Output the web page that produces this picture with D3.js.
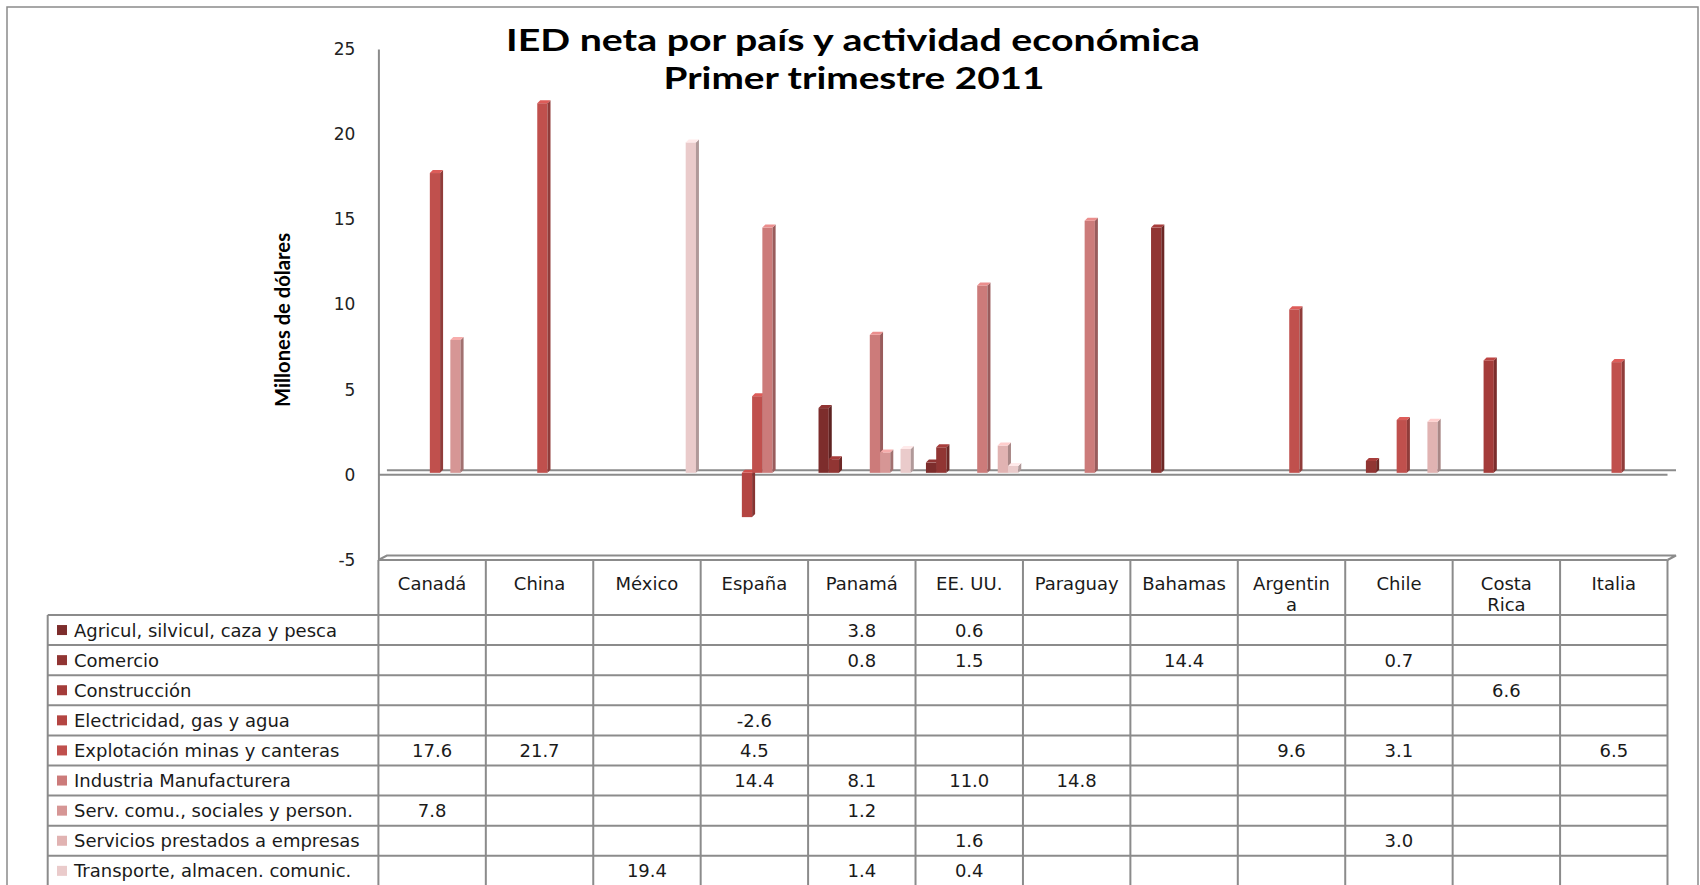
<!DOCTYPE html>
<html>
<head>
<meta charset="utf-8">
<script src="https://cdn.jsdelivr.net/npm/d3@7"></script>
<style>
  body { margin: 0; background: #fff; }
  svg { display: block; }
</style>
</head>
<body>
<svg id="chart" width="1700" height="885"></svg>
<script>
// ---- data ----
const countries = ["Canadá", "China", "México", "España", "Panamá", "EE. UU.", "Paraguay", "Bahamas", "Argentina", "Chile", "Costa Rica", "Italia"];
const headerLabels = ["Canadá", "China", "México", "España", "Panamá", "EE. UU.", "Paraguay", "Bahamas", "Argentin\na", "Chile", "Costa\nRica", "Italia"];

const seriesNames = [
  "Agricul, silvicul, caza y pesca",
  "Comercio",
  "Construcción",
  "Electricidad, gas y agua",
  "Explotación minas y canteras",
  "Industria Manufacturera",
  "Serv. comu., sociales y person.",
  "Servicios prestados a empresas",
  "Transporte, almacen. comunic."
];

//                     Can   Chi   Méx   Esp   Pan  EEUU  Par   Bah   Arg   Chi   CR    Ita
const agricultura   = [null, null, null, null, 3.8, 0.6, null, null, null, null, null, null];
const comercio      = [null, null, null, null, 0.8, 1.5, null, 14.4, null, 0.7, null, null];
const construccion  = [null, null, null, null, null, null, null, null, null, null, 6.6, null];
const electricidad  = [null, null, null, -2.6, null, null, null, null, null, null, null, null];
const explotacion   = [17.6, 21.7, null, 4.5, null, null, null, null, 9.6, 3.1, null, 6.5];
const industria     = [null, null, null, 14.4, 8.1, 11.0, 14.8, null, null, null, null, null];
const servComunales = [7.8, null, null, null, 1.2, null, null, null, null, null, null, null];
const servEmpresas  = [null, null, null, null, null, 1.6, null, null, null, 3.0, null, null];
const transporte    = [null, null, 19.4, null, 1.4, 0.4, null, null, null, null, null, null];

const seriesValues = [agricultura, comercio, construccion, electricidad, explotacion,
                      industria, servComunales, servEmpresas, transporte];

const seriesColors = ["#7d2d2c", "#913533", "#a43c3a", "#b44542", "#c0504d",
                      "#cc7b7a", "#d69695", "#e1b3b2", "#eacbcb"];

const yTicks = [-5, 0, 5, 10, 15, 20, 25];
const titleLines = ["IED neta por país y actividad económica", "Primer trimestre 2011"];
const yTitle = "Millones de dólares";

// number formatting with a plain hyphen for negatives
const locale = d3.formatLocale({ decimal: ".", thousands: ",", grouping: [3], currency: ["$", ""], minus: "-" });
const fmtTick = locale.format("d");
const fmtValue = locale.format(".1f");

// ---- layout ----
const svg = d3.select("#chart");
const plotLeft = 378.4, plotRight = 1667.5;
const yTopPx = 49, yBottomPx = 560;
const wallDx = 8.5, wallDy = -4.5;     // depth of the 3D floor / back wall
const barDx = 3, barDy = -3;           // depth of each column
const barLift = -2;                    // columns stand slightly behind the front edge
const tableTop = 560, headerBottom = 615, rowH = 30.1, legendLeft = 47.7;
const gridColor = "#8b8b8b";
const tableFont = "'DejaVu Sans', sans-serif";
const tableRowsBottom = headerBottom + rowH * seriesNames.length;

svg.append("rect").attr("width", 1700).attr("height", 885).attr("fill", "#fff");

// chart frame
svg.append("rect")
  .attr("x", 7).attr("y", 7).attr("width", 1691).attr("height", 900)
  .attr("fill", "none").attr("stroke", gridColor).attr("stroke-width", 1.5);

// scales
const x = d3.scaleBand().domain(countries).range([plotLeft, plotRight]).padding(0);
const bw = x.bandwidth();
const xs = d3.scaleBand().domain(seriesNames).range([bw * 0.097, bw * 0.956]).padding(0);
const y = d3.scaleLinear().domain([-5, 25]).range([yBottomPx, yTopPx]);

// floor (3D) at the bottom of the value range
const floorG = svg.append("g").attr("fill", "none").attr("stroke", gridColor).attr("stroke-width", 2);
floorG.append("path").attr("d",
  `M${plotLeft},${y(-5)} L${plotLeft + wallDx},${y(-5) + wallDy} L${plotRight + wallDx},${y(-5) + wallDy} L${plotRight},${y(-5)}`);

// zero lines: back wall and front edge
floorG.append("line")
  .attr("x1", plotLeft + wallDx).attr("x2", plotRight + wallDx)
  .attr("y1", y(0) + wallDy).attr("y2", y(0) + wallDy);
floorG.append("line")
  .attr("x1", plotLeft).attr("x2", plotRight)
  .attr("y1", y(0)).attr("y2", y(0));

// y axis
const yAxis = svg.append("g")
  .attr("transform", `translate(${plotLeft},0)`)
  .call(d3.axisLeft(y).tickValues(yTicks).tickFormat(fmtTick).tickSize(0).tickSizeOuter(0).tickPadding(23));
yAxis.select(".domain").attr("stroke", gridColor).attr("stroke-width", 2);
yAxis.selectAll("text")
  .attr("font-family", tableFont).attr("font-size", 17).attr("fill", "#222");

// bars
const bars = [];
seriesValues.forEach((vals, si) => {
  vals.forEach((v, ci) => {
    if (v !== null) bars.push({ series: seriesNames[si], si, country: countries[ci], ci, value: v });
  });
});
bars.sort((a, b) => (a.ci - b.ci) || (a.si - b.si));

const barG = svg.append("g");
bars.forEach(d => {
  const c = seriesColors[d.si];
  const x0 = x(d.country) + xs(d.series);
  const w = xs.bandwidth();
  const yt = y(Math.max(d.value, 0)) + barLift;
  const yb = y(Math.min(d.value, 0)) + barLift;
  const g = barG.append("g");
  g.append("rect")
    .attr("x", x0).attr("y", yt).attr("width", w).attr("height", yb - yt)
    .attr("fill", c);
  g.append("polygon")
    .attr("points", [[x0 + w, yt], [x0 + w + barDx, yt + barDy], [x0 + w + barDx, yb + barDy], [x0 + w, yb]].join(" "))
    .attr("fill", d3.color(c).darker(0.8));
  g.append("polygon")
    .attr("points", [[x0, yt], [x0 + barDx, yt + barDy], [x0 + w + barDx, yt + barDy], [x0 + w, yt]].join(" "))
    .attr("fill", d3.color(c).brighter(0.4));
});

// title
const title = svg.append("g")
  .attr("font-family", "Lato, 'Open Sans', sans-serif").attr("font-weight", 700)
  .attr("font-size", 31).attr("fill", "#000").attr("text-anchor", "middle");
title.append("text").attr("x", 853).attr("y", 51).text(titleLines[0])
  .attr("textLength", 694).attr("lengthAdjust", "spacingAndGlyphs");
title.append("text").attr("x", 854).attr("y", 89).text(titleLines[1])
  .attr("textLength", 381).attr("lengthAdjust", "spacingAndGlyphs");

// y axis title
svg.append("text")
  .attr("transform", "translate(290,320) rotate(-90)")
  .attr("text-anchor", "middle")
  .attr("font-family", "Lato, 'Open Sans', sans-serif").attr("font-weight", 700)
  .attr("font-size", 20).attr("fill", "#000")
  .attr("textLength", 174).attr("lengthAdjust", "spacingAndGlyphs")
  .text(yTitle);

// ---- data table ----
const tableG = svg.append("g").attr("stroke", gridColor).attr("stroke-width", 2);
// header top edge
tableG.append("line").attr("x1", plotLeft).attr("x2", plotRight).attr("y1", tableTop).attr("y2", tableTop);
// column separators
const colEdges = countries.map(c => x(c)).concat([plotRight]);
colEdges.forEach(cx => {
  tableG.append("line").attr("x1", cx).attr("x2", cx).attr("y1", tableTop).attr("y2", tableRowsBottom);
});
// legend column left edge
tableG.append("line").attr("x1", legendLeft).attr("x2", legendLeft).attr("y1", headerBottom).attr("y2", tableRowsBottom);
// row separators
d3.range(seriesNames.length + 1).forEach(k => {
  const ry = headerBottom + k * rowH;
  tableG.append("line").attr("x1", legendLeft).attr("x2", plotRight).attr("y1", ry).attr("y2", ry);
});

// header labels
const headG = svg.append("g").attr("font-family", tableFont).attr("font-size", 18)
  .attr("fill", "#1a1a1a").attr("text-anchor", "middle");
headerLabels.forEach((lab, ci) => {
  const t = headG.append("text").attr("x", x(countries[ci]) + bw / 2).attr("y", 590);
  lab.split("\n").forEach((line, li) => {
    t.append("tspan").attr("x", x(countries[ci]) + bw / 2).attr("y", 590 + li * 21).text(line);
  });
});

// legend entries + values
const rowsG = svg.append("g").attr("font-family", tableFont).attr("font-size", 18).attr("fill", "#1a1a1a");
seriesNames.forEach((name, si) => {
  const mid = headerBottom + si * rowH + rowH / 2;
  rowsG.append("rect").attr("x", 57).attr("y", mid - 5).attr("width", 10).attr("height", 10)
    .attr("fill", seriesColors[si]);
  rowsG.append("text").attr("x", 74).attr("y", mid).attr("dy", "0.36em").text(name);
  seriesValues[si].forEach((v, ci) => {
    if (v === null) return;
    rowsG.append("text")
      .attr("x", x(countries[ci]) + bw / 2).attr("y", mid).attr("dy", "0.36em")
      .attr("text-anchor", "middle").text(fmtValue(v));
  });
});
</script>
</body>
</html>
